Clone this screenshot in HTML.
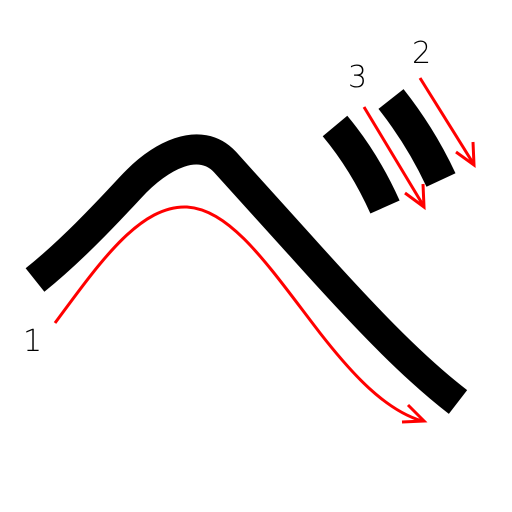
<!DOCTYPE html>
<html>
<head>
<meta charset="utf-8">
<style>
html,body{margin:0;padding:0;background:#fff;width:512px;height:512px;overflow:hidden}
svg{display:block}
text{font-family:"DejaVu Sans","Liberation Sans",sans-serif;font-size:30px;fill:#000;font-weight:300}
</style>
</head>
<body>
<svg width="512" height="512" viewBox="0 0 512 512">
  <path d="M35,280 C70,252 105,215 130,188 C160,155 200,135 225,162 L300,245 C360,312 410,365 458,402" fill="none" stroke="#000" stroke-width="30" stroke-linejoin="round"/>
  <path d="M335,126 C355,150 372,178 385,207" fill="none" stroke="#000" stroke-width="32"/>
  <path d="M391,99 C410,123 427,150 441,180" fill="none" stroke="#000" stroke-width="32"/>

  <g fill="none" stroke="#f00" stroke-width="3">
    <path d="M55,323 C100,262 140,205 187,207 C232,210 270,268 320,333 C352,374 385,410 422,421"/>
    <path d="M408,405 L424,421 L402,422"/>
  </g>
  <g fill="none" stroke="#f00" stroke-width="3">
    <path d="M364,107 L423,205"/>
    <path d="M405,193 L424,207 L423,184"/>
  </g>
  <g fill="none" stroke="#f00" stroke-width="3">
    <path d="M420,78 L473,163"/>
    <path d="M456,152 L474,165 L473,142"/>
  </g>

  <text x="23" y="351">1</text>
  <text x="348" y="87">3</text>
  <text x="412" y="63">2</text>
</svg>
</body>
</html>
